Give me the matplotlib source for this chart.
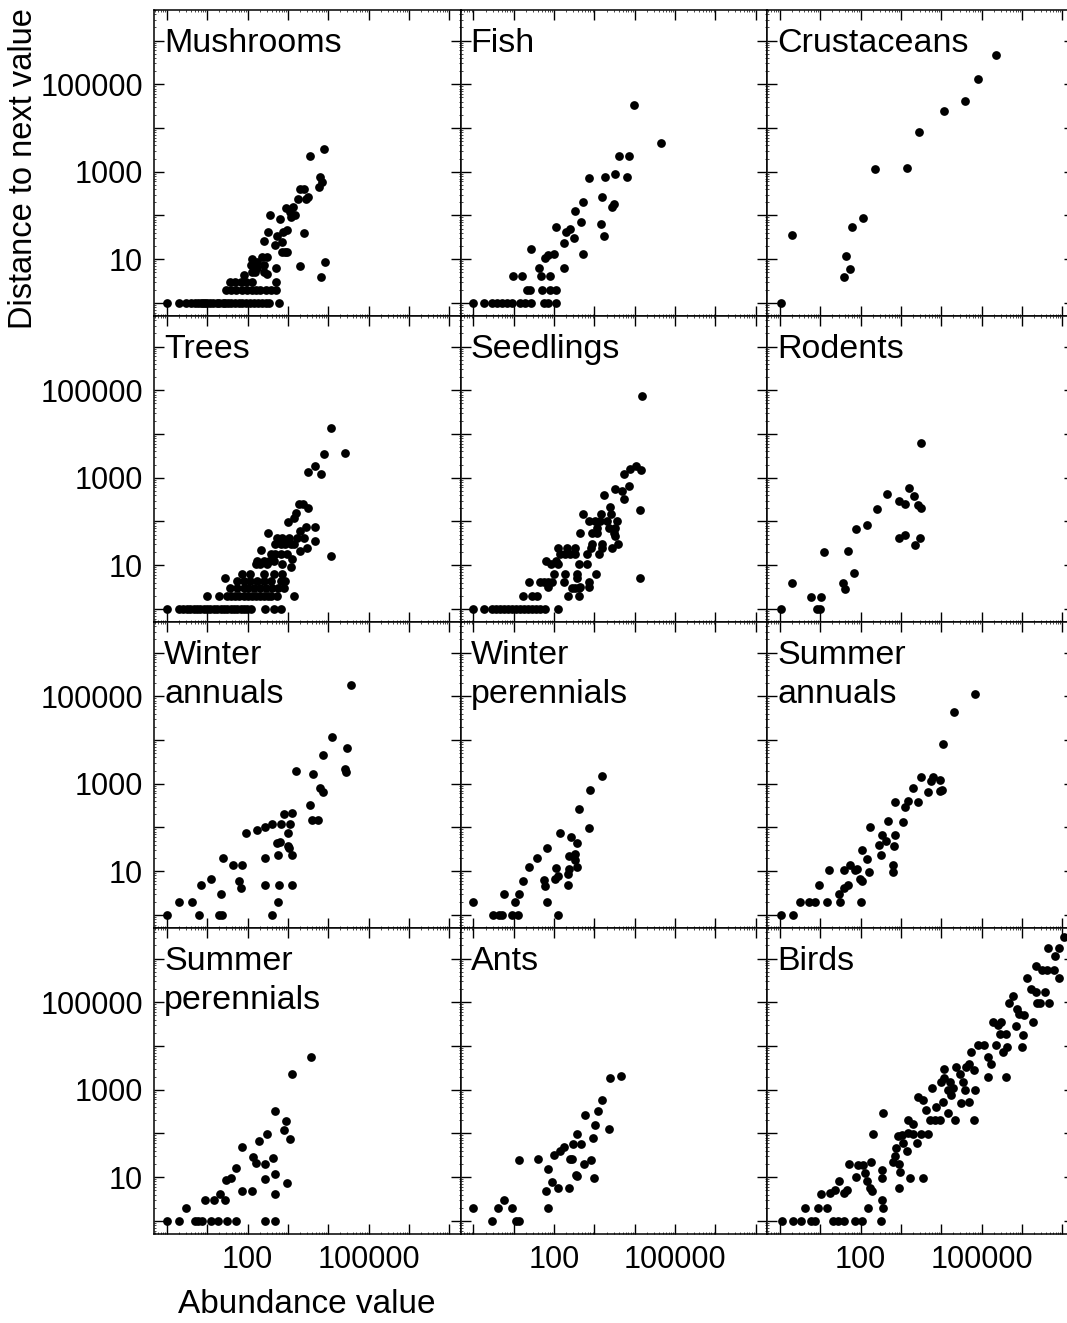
import numpy as np
import matplotlib
matplotlib.use('Agg')
import matplotlib.pyplot as plt
from matplotlib.ticker import LogLocator, NullFormatter

plt.rcParams['font.family'] = ['Liberation Sans', 'DejaVu Sans']

# values are log10(abundance), log10(distance to next value)
mushrooms = [(0, 0), (0.30, 0), (0.48, 0), (0.6, 0), (0.7, 0), (0.78, 0), (0.85, 0), (0.9, 0), (0.95, 0),
             (1.0, 0), (1.08, 0), (1.15, 0), (1.23, 0), (1.3, 0), (1.38, 0), (1.45, 0), (1.52, 0), (1.6, 0),
             (1.7, 0), (1.78, 0), (1.85, 0), (1.95, 0), (2.05, 0), (2.15, 0), (2.25, 0), (2.35, 0), (2.45, 0),
             (2.54, 0), (2.79, 0),
             (1.47, 0.3), (1.6, 0.3), (1.72, 0.3), (1.85, 0.3), (1.98, 0.3), (2.1, 0.3), (2.2, 0.3), (2.32, 0.3),
             (2.45, 0.3), (2.58, 0.3), (2.71, 0.3),
             (1.57, 0.48), (1.7, 0.48), (1.83, 0.48), (1.95, 0.48), (2.1, 0.48), (2.71, 0.48),
             (1.9, 0.64), (2.08, 0.86), (2.23, 0.79), (2.4, 0.7), (2.48, 0.67), (2.1, 0.7), (2.19, 0.7),
             (2.1, 1.0), (2.23, 0.94), (2.36, 1.05), (2.48, 1.05), (2.4, 0.86), (2.4, 1.41), (2.5, 1.62),
             (2.56, 2.0), (2.81, 1.92), (2.69, 1.32), (2.73, 1.53), (2.85, 1.39), (2.89, 1.62), (2.98, 1.66),
             (2.93, 1.17), (2.99, 1.17), (2.85, 1.17), (2.71, 0.8), (2.96, 2.17), (3.06, 2.08), (3.12, 2.19),
             (3.18, 2.0), (3.08, 1.96), (3.26, 2.38), (3.31, 2.6), (3.39, 2.6), (3.45, 2.38), (3.49, 2.42),
             (3.39, 1.6), (3.29, 0.84), (3.54, 3.36), (3.9, 3.52), (3.8, 2.87), (3.84, 2.77), (3.76, 2.64),
             (3.82, 0.6), (3.91, 0.94)]

fish = [(0, 0), (0.27, 0), (0.46, 0), (0.58, 0), (0.7, 0), (0.83, 0), (0.95, 0), (1.16, 0), (1.28, 0),
        (1.43, 0), (1.76, 0), (1.84, 0), (2.05, 0),
        (1.33, 0.3), (1.41, 0.3), (1.71, 0.3), (1.91, 0.3), (2.05, 0.3),
        (0.99, 0.62), (1.2, 0.62), (1.68, 0.62), (1.91, 0.62),
        (1.63, 0.8), (2.25, 0.8), (1.43, 1.23), (1.78, 1.02), (1.86, 1.1), (2.01, 1.11), (2.05, 1.74),
        (2.24, 1.36), (2.3, 1.63), (2.39, 1.69), (2.49, 1.48), (2.72, 1.11), (2.67, 1.86), (2.53, 2.11),
        (2.72, 2.31), (2.86, 2.86), (3.19, 2.42), (3.16, 1.8), (3.25, 1.52), (3.44, 2.2), (3.48, 2.27),
        (3.26, 2.88), (3.5, 2.95), (3.62, 3.37), (3.81, 2.87), (3.85, 3.36), (3.99, 4.53), (4.66, 3.66)]

crustaceans = [(0.02, 0), (0.31, 1.55), (1.6, 0.59), (1.74, 0.78), (1.64, 1.08), (1.78, 1.73), (2.07, 1.95),
               (2.36, 3.06), (3.16, 3.08), (3.45, 3.91), (4.06, 4.39), (4.6, 4.61), (4.92, 5.13), (5.37, 5.66)]

trees = [(0, 0), (0.29, 0), (0.41, 0), (0.5, 0), (0.58, 0), (0.66, 0), (0.75, 0), (0.83, 0), (0.91, 0),
         (1.0, 0), (1.08, 0), (1.16, 0), (1.25, 0), (1.33, 0), (1.41, 0), (1.5, 0), (1.58, 0), (1.66, 0),
         (1.75, 0), (1.83, 0), (1.91, 0), (1.99, 0), (2.09, 0), (2.43, 0), (2.65, 0), (2.82, 0),
         (0.99, 0.3), (1.28, 0.3), (1.49, 0.3), (1.6, 0.3), (1.7, 0.3), (1.8, 0.3), (1.9, 0.3), (2.0, 0.3),
         (2.1, 0.3), (2.2, 0.3), (2.3, 0.3), (2.4, 0.3), (2.5, 0.3), (2.57, 0.3), (2.73, 0.3), (3.15, 0.3),
         (1.57, 0.48), (1.74, 0.48), (1.9, 0.48), (2.0, 0.48), (2.15, 0.48), (2.3, 0.48), (2.45, 0.48),
         (2.6, 0.48), (2.75, 0.48), (2.9, 0.48),
         (1.74, 0.64), (1.91, 0.64), (2.07, 0.64), (2.24, 0.64), (2.4, 0.64), (2.57, 0.64), (2.82, 0.64),
         (2.94, 0.64), (1.86, 0.8), (2.07, 0.8), (2.4, 0.8), (2.65, 0.8), (2.86, 0.8), (1.43, 0.7),
         (2.2, 1.02), (2.32, 1.02), (2.49, 1.02), (2.86, 1.02), (2.24, 1.1), (2.4, 1.1), (2.53, 1.1),
         (2.65, 1.1), (2.34, 1.34), (2.5, 1.74), (3.08, 0.96), (3.11, 1.14),
         (2.57, 1.25), (2.69, 1.25), (2.82, 1.25), (2.98, 1.25),
         (2.69, 1.48), (2.82, 1.48), (2.94, 1.48), (3.07, 1.48), (3.15, 1.48),
         (2.73, 1.63), (2.86, 1.63), (3.02, 1.63), (3.23, 1.63), (3.4, 1.63),
         (3.48, 1.4), (3.31, 1.33), (3.66, 1.55), (3.46, 1.87), (3.66, 1.87), (3.31, 1.78), (3.0, 1.99),
         (3.15, 2.08), (3.21, 2.2), (3.27, 2.39), (3.38, 2.39), (3.5, 2.3), (4.06, 1.21), (3.5, 3.14),
         (3.66, 3.28), (3.83, 3.08), (3.89, 3.54), (4.06, 4.14), (4.42, 3.56)]

seedlings = [(0, 0), (0.27, 0), (0.46, 0), (0.55, 0), (0.65, 0), (0.75, 0), (0.85, 0), (0.95, 0), (1.05, 0),
             (1.15, 0), (1.25, 0), (1.35, 0), (1.45, 0), (1.55, 0), (1.65, 0), (1.78, 0), (2.09, 0),
             (1.24, 0.3), (1.45, 0.3), (1.57, 0.3), (2.34, 0.3), (2.61, 0.3),
             (2.44, 0.48), (2.53, 0.48), (2.61, 0.48), (1.86, 0.49), (2.65, 0.49), (2.86, 0.49),
             (1.38, 0.62), (1.66, 0.62), (1.74, 0.62), (1.84, 0.62), (1.95, 0.62), (2.24, 0.62), (2.86, 0.62),
             (1.99, 0.8), (2.28, 0.8), (2.57, 0.8), (3.05, 0.8), (2.57, 0.7),
             (1.92, 1.02), (2.11, 1.02), (2.61, 1.02), (2.82, 1.02), (1.81, 1.1), (2.05, 1.1),
             (2.15, 1.25), (2.28, 1.25), (2.4, 1.25), (2.53, 1.25), (2.82, 1.25), (3.11, 1.25),
             (2.09, 1.4), (2.32, 1.4), (2.53, 1.4), (2.92, 1.4), (3.19, 1.4), (3.44, 1.4),
             (2.94, 1.48), (3.19, 1.48), (3.58, 1.48),
             (2.65, 1.74), (2.94, 1.74), (3.07, 1.74), (3.48, 1.74), (3.5, 1.67),
             (2.86, 2.0), (3.02, 2.0), (3.15, 2.0), (3.31, 2.0), (3.56, 2.0),
             (2.72, 2.16), (3.16, 2.16), (3.4, 2.16), (3.07, 1.86), (3.36, 1.86), (3.5, 1.86),
             (3.38, 2.33), (3.25, 2.6), (3.5, 2.75), (3.69, 2.69), (3.85, 2.8), (3.74, 2.52), (3.74, 3.08),
             (3.89, 3.2), (4.04, 3.28), (4.16, 3.17), (4.14, 2.26), (4.14, 0.7), (4.18, 4.87)]

rodents = [(0.02, 0), (0.31, 0.59), (0.77, 0.28), (1.01, 0.28), (0.93, 0), (0.99, 0), (1.09, 1.29),
           (1.57, 0.59), (1.61, 0.46), (1.68, 1.32), (1.84, 0.83), (1.88, 1.83), (2.17, 1.93), (2.4, 2.28),
           (2.66, 2.63), (2.95, 2.46), (3.1, 2.41), (3.2, 2.77), (3.33, 2.59), (3.43, 2.37), (3.5, 2.31),
           (3.49, 3.79), (2.95, 1.63), (3.1, 1.69), (3.35, 1.46), (3.47, 1.63)]

winter_annuals = [(0, 0), (0.31, 0.29), (0.62, 0.29), (0.79, 0), (0.85, 0.68), (1.09, 0.83), (1.33, 0.47),
                  (1.28, 0), (1.37, 0), (1.39, 1.31), (1.64, 1.15), (1.86, 1.15), (1.78, 0.77), (1.84, 0.61),
                  (1.95, 1.87), (2.24, 1.95), (2.44, 2.02), (2.61, 2.08), (2.82, 2.08), (3.05, 2.08),
                  (2.9, 2.3), (3.11, 2.33), (3.0, 1.87), (2.73, 1.64), (2.8, 1.67), (3.0, 1.57), (3.02, 1.53),
                  (2.76, 1.38), (3.09, 1.36), (2.43, 1.29), (2.43, 0.68), (2.78, 0.68), (3.11, 0.68),
                  (2.76, 0.29), (2.61, 0), (3.19, 3.3), (3.56, 2.52), (3.6, 2.16), (3.75, 2.18), (3.79, 2.9),
                  (3.87, 2.82), (3.62, 3.23), (3.88, 3.66), (4.1, 4.08), (4.47, 3.81), (4.42, 3.33),
                  (4.45, 3.26), (4.57, 5.25)]

winter_perennials = [(0, 0.29), (0.48, 0), (0.63, 0), (0.72, 0), (0.96, 0), (1.11, 0), (0.75, 0.47),
                     (1.04, 0.29), (1.13, 0.47), (1.23, 0.77), (1.38, 1.1), (1.57, 1.29), (1.76, 0.8),
                     (1.78, 0.67), (1.83, 0.29), (1.83, 1.53), (2.04, 1.08), (2.09, 0.89), (2.02, 0.83),
                     (2.1, 0), (2.14, 1.88), (2.34, 0.68), (2.34, 0.93), (2.38, 1.06), (2.36, 1.34),
                     (2.42, 1.78), (2.52, 1.4), (2.53, 1.25), (2.57, 1.1), (2.57, 1.64), (2.62, 2.42),
                     (2.86, 1.98), (2.9, 2.86), (3.19, 3.18)]

summer_annuals = [(0.03, 0), (0.32, 0), (0.51, 0.29), (0.73, 0.29), (0.87, 0.29), (1.16, 0.29), (1.49, 0.29),
                  (2.02, 0.29), (0.98, 0.68), (1.22, 1.02), (1.46, 0.47), (1.59, 0.62), (1.7, 0.68),
                  (1.59, 1.02), (1.75, 1.15), (1.87, 1.02), (1.92, 1.06), (1.99, 0.83), (2.04, 0.77),
                  (2.21, 0.98), (2.16, 1.27), (2.04, 1.48), (2.23, 2.02), (2.45, 1.59), (2.51, 1.38),
                  (2.54, 1.82), (2.63, 1.68), (2.68, 2.14), (2.8, 1.14), (2.8, 0.98), (2.83, 1.57),
                  (2.85, 1.83), (3.04, 2.12), (2.85, 2.58), (3.09, 2.46), (3.18, 2.61), (3.3, 2.9),
                  (3.42, 2.59), (3.5, 3.16), (3.68, 2.82), (3.74, 3.07), (3.8, 3.16), (3.98, 3.08),
                  (3.98, 2.83), (4.02, 2.86), (4.04, 3.92), (4.31, 4.64), (4.84, 5.05)]

summer_perennials = [(0, 0), (0.31, 0), (0.48, 0.29), (0.69, 0), (0.77, 0), (0.88, 0), (1.1, 0), (1.27, 0),
                     (1.48, 0), (1.72, 0), (2.43, 0), (2.68, 0), (0.94, 0.47), (1.16, 0.47), (1.31, 0.61),
                     (1.43, 0.47), (1.46, 0.93), (1.58, 0.99), (1.72, 1.2), (1.85, 0.68), (1.87, 1.69),
                     (2.1, 0.68), (2.14, 1.46), (2.22, 1.33), (2.29, 1.82), (2.43, 1.31), (2.43, 0.95),
                     (2.47, 1.99), (2.62, 1.43), (2.68, 1.08), (2.68, 0.61), (2.68, 2.52), (2.9, 2.09),
                     (2.96, 2.28), (3.05, 1.88), (2.97, 0.87), (3.09, 3.36), (3.57, 3.74)]

ants = [(0, 0.29), (0.47, 0), (0.62, 0.29), (0.76, 0.47), (0.95, 0.29), (1.06, 0), (1.12, 0), (1.12, 1.4),
        (1.6, 1.42), (1.81, 0.68), (1.85, 0.29), (1.86, 1.19), (1.95, 0.89), (2.0, 1.5), (2.11, 0.76),
        (2.15, 1.59), (2.24, 1.69), (2.36, 0.76), (2.39, 1.42), (2.44, 1.42), (2.47, 1.77), (2.57, 1.98),
        (2.55, 1.06), (2.57, 1.02), (2.67, 1.77), (2.73, 1.29), (2.76, 2.42), (2.92, 1.39), (2.96, 1.89),
        (3.0, 0.98), (3.02, 2.2), (3.09, 2.52), (3.19, 2.77), (3.36, 2.11), (3.38, 3.28), (3.67, 3.31)]

birds = [(0.04, 0), (0.32, 0), (0.53, 0), (0.78, 0), (0.88, 0), (1.31, 0), (1.45, 0), (1.58, 0), (1.87, 0),
         (2.03, 0), (2.51, 0), (0.63, 0.29), (0.94, 0.29), (1.18, 0.29), (2.19, 0.29), (2.56, 0.29),
         (2.52, 0.47), (1.03, 0.61), (1.25, 0.63), (1.36, 0.7), (1.6, 0.63), (1.66, 0.7), (1.47, 0.91),
         (1.72, 1.31), (1.93, 1.27), (2.05, 1.27), (2.26, 1.34), (1.88, 1.0), (2.11, 1.1), (2.15, 0.91),
         (2.24, 0.76), (2.28, 0.68), (2.52, 1.17), (2.54, 0.98), (2.32, 1.98), (2.56, 2.46), (2.81, 1.35),
         (2.85, 1.48), (2.89, 1.67), (2.95, 1.29), (2.97, 1.11), (2.95, 0.76), (2.92, 1.95), (3.02, 1.97),
         (3.06, 1.78), (3.14, 1.59), (3.18, 2.01), (3.22, 0.98), (3.3, 1.98), (3.39, 1.78), (3.51, 1.98),
         (3.55, 0.98), (3.67, 1.98), (3.18, 2.31), (3.3, 2.21), (3.43, 2.84), (3.55, 2.77), (3.63, 2.54),
         (3.71, 2.31), (3.84, 2.31), (3.96, 2.31), (3.76, 3.03), (3.88, 2.61), (4.0, 3.18), (4.04, 2.71),
         (4.07, 3.47), (4.17, 2.99), (4.17, 2.46), (4.21, 3.18), (4.25, 2.88), (4.29, 3.03), (4.35, 2.31),
         (4.37, 3.52), (4.46, 3.37), (4.48, 2.69), (4.54, 3.18), (4.58, 2.99), (4.62, 3.52), (4.7, 3.6),
         (4.7, 2.73), (4.74, 3.86), (4.82, 3.45), (4.84, 2.99), (4.82, 2.31), (4.91, 4.02), (5.07, 4.02),
         (5.15, 3.75), (5.17, 3.3), (5.24, 3.58), (5.28, 4.55), (5.36, 4.02), (5.4, 4.47), (5.45, 4.28),
         (5.49, 4.55), (5.52, 3.86), (5.6, 4.28), (5.6, 3.3), (5.64, 3.98), (5.69, 4.98), (5.77, 5.15),
         (5.85, 4.45), (5.89, 4.85), (5.93, 4.73), (6.01, 3.98), (6.04, 4.26), (6.05, 4.7), (6.12, 5.55),
         (6.22, 5.3), (6.28, 4.56), (6.34, 5.24), (6.38, 4.98), (6.34, 5.83), (6.5, 5.74), (6.62, 5.74),
         (6.79, 5.74), (6.45, 4.98), (6.67, 4.98), (6.57, 5.24), (6.64, 6.25), (6.83, 6.05), (6.92, 6.25),
         (6.92, 5.55), (7.04, 6.5), (4.08, 3.26)]

titles = ['Mushrooms', 'Fish', 'Crustaceans',
          'Trees', 'Seedlings', 'Rodents',
          'Winter\nannuals', 'Winter\nperennials', 'Summer\nannuals',
          'Summer\nperennials', 'Ants', 'Birds']
panels = [mushrooms, fish, crustaceans, trees, seedlings, rodents,
          winter_annuals, winter_perennials, summer_annuals,
          summer_perennials, ants, birds]

W, H = 1067, 1323
fig = plt.figure(figsize=(W / 100, H / 100), dpi=100)

left0, top0 = 154, 10
pw, ph = 306.5, 306

for k, (title, pts) in enumerate(zip(titles, panels)):
    r, c = divmod(k, 3)
    x0 = left0 + c * pw
    y0 = top0 + r * ph
    ax = fig.add_axes([x0 / W, 1 - (y0 + ph) / H, pw / W, ph / H])
    lx, ly = np.array(pts).T
    ax.plot(10.0 ** lx, 10.0 ** ly, 'o', color='black', markersize=6.3, markeredgewidth=0)
    ax.set_xscale('log')
    ax.set_yscale('log')
    ax.set_xlim(10 ** -0.32, 10 ** 7.28)
    ax.set_ylim(10 ** -0.3, 10 ** 6.7)
    ax.set_xticks(10.0 ** np.arange(0, 8))
    ax.set_yticks(10.0 ** np.arange(0, 7))
    ax.xaxis.set_minor_locator(LogLocator(base=10, subs=np.arange(2, 10), numticks=20))
    ax.yaxis.set_minor_locator(LogLocator(base=10, subs=np.arange(2, 10), numticks=20))
    ax.xaxis.set_minor_formatter(NullFormatter())
    ax.yaxis.set_minor_formatter(NullFormatter())
    if r == 3:
        ax.set_xticklabels(['', '', '100', '', '', '100000', '', ''])
    else:
        ax.set_xticklabels([])
    if c == 0:
        ax.set_yticklabels(['', '10', '', '1000', '', '100000', ''])
    else:
        ax.set_yticklabels([])
    ax.tick_params(which='both', direction='in', top=True, right=True, labelsize=22)
    ax.tick_params(which='major', length=7, width=1, pad=8)
    ax.tick_params(which='minor', length=1.5, width=0.5)
    for s in ax.spines.values():
        s.set_linewidth(1.1)
    ax.text(0.033, 0.942, title, transform=ax.transAxes, ha='left', va='top',
            fontsize=24.5, linespacing=1.35)
    if k == 0:
        ax.set_ylabel('Distance to next value', fontsize=23.5)
        ax.yaxis.set_label_coords(-0.375, 0.482)
    if k == 9:
        ax.set_xlabel('Abundance value', fontsize=24)
        ax.xaxis.set_label_coords(0.5, -0.18)

fig.savefig('out.png', dpi=100)
